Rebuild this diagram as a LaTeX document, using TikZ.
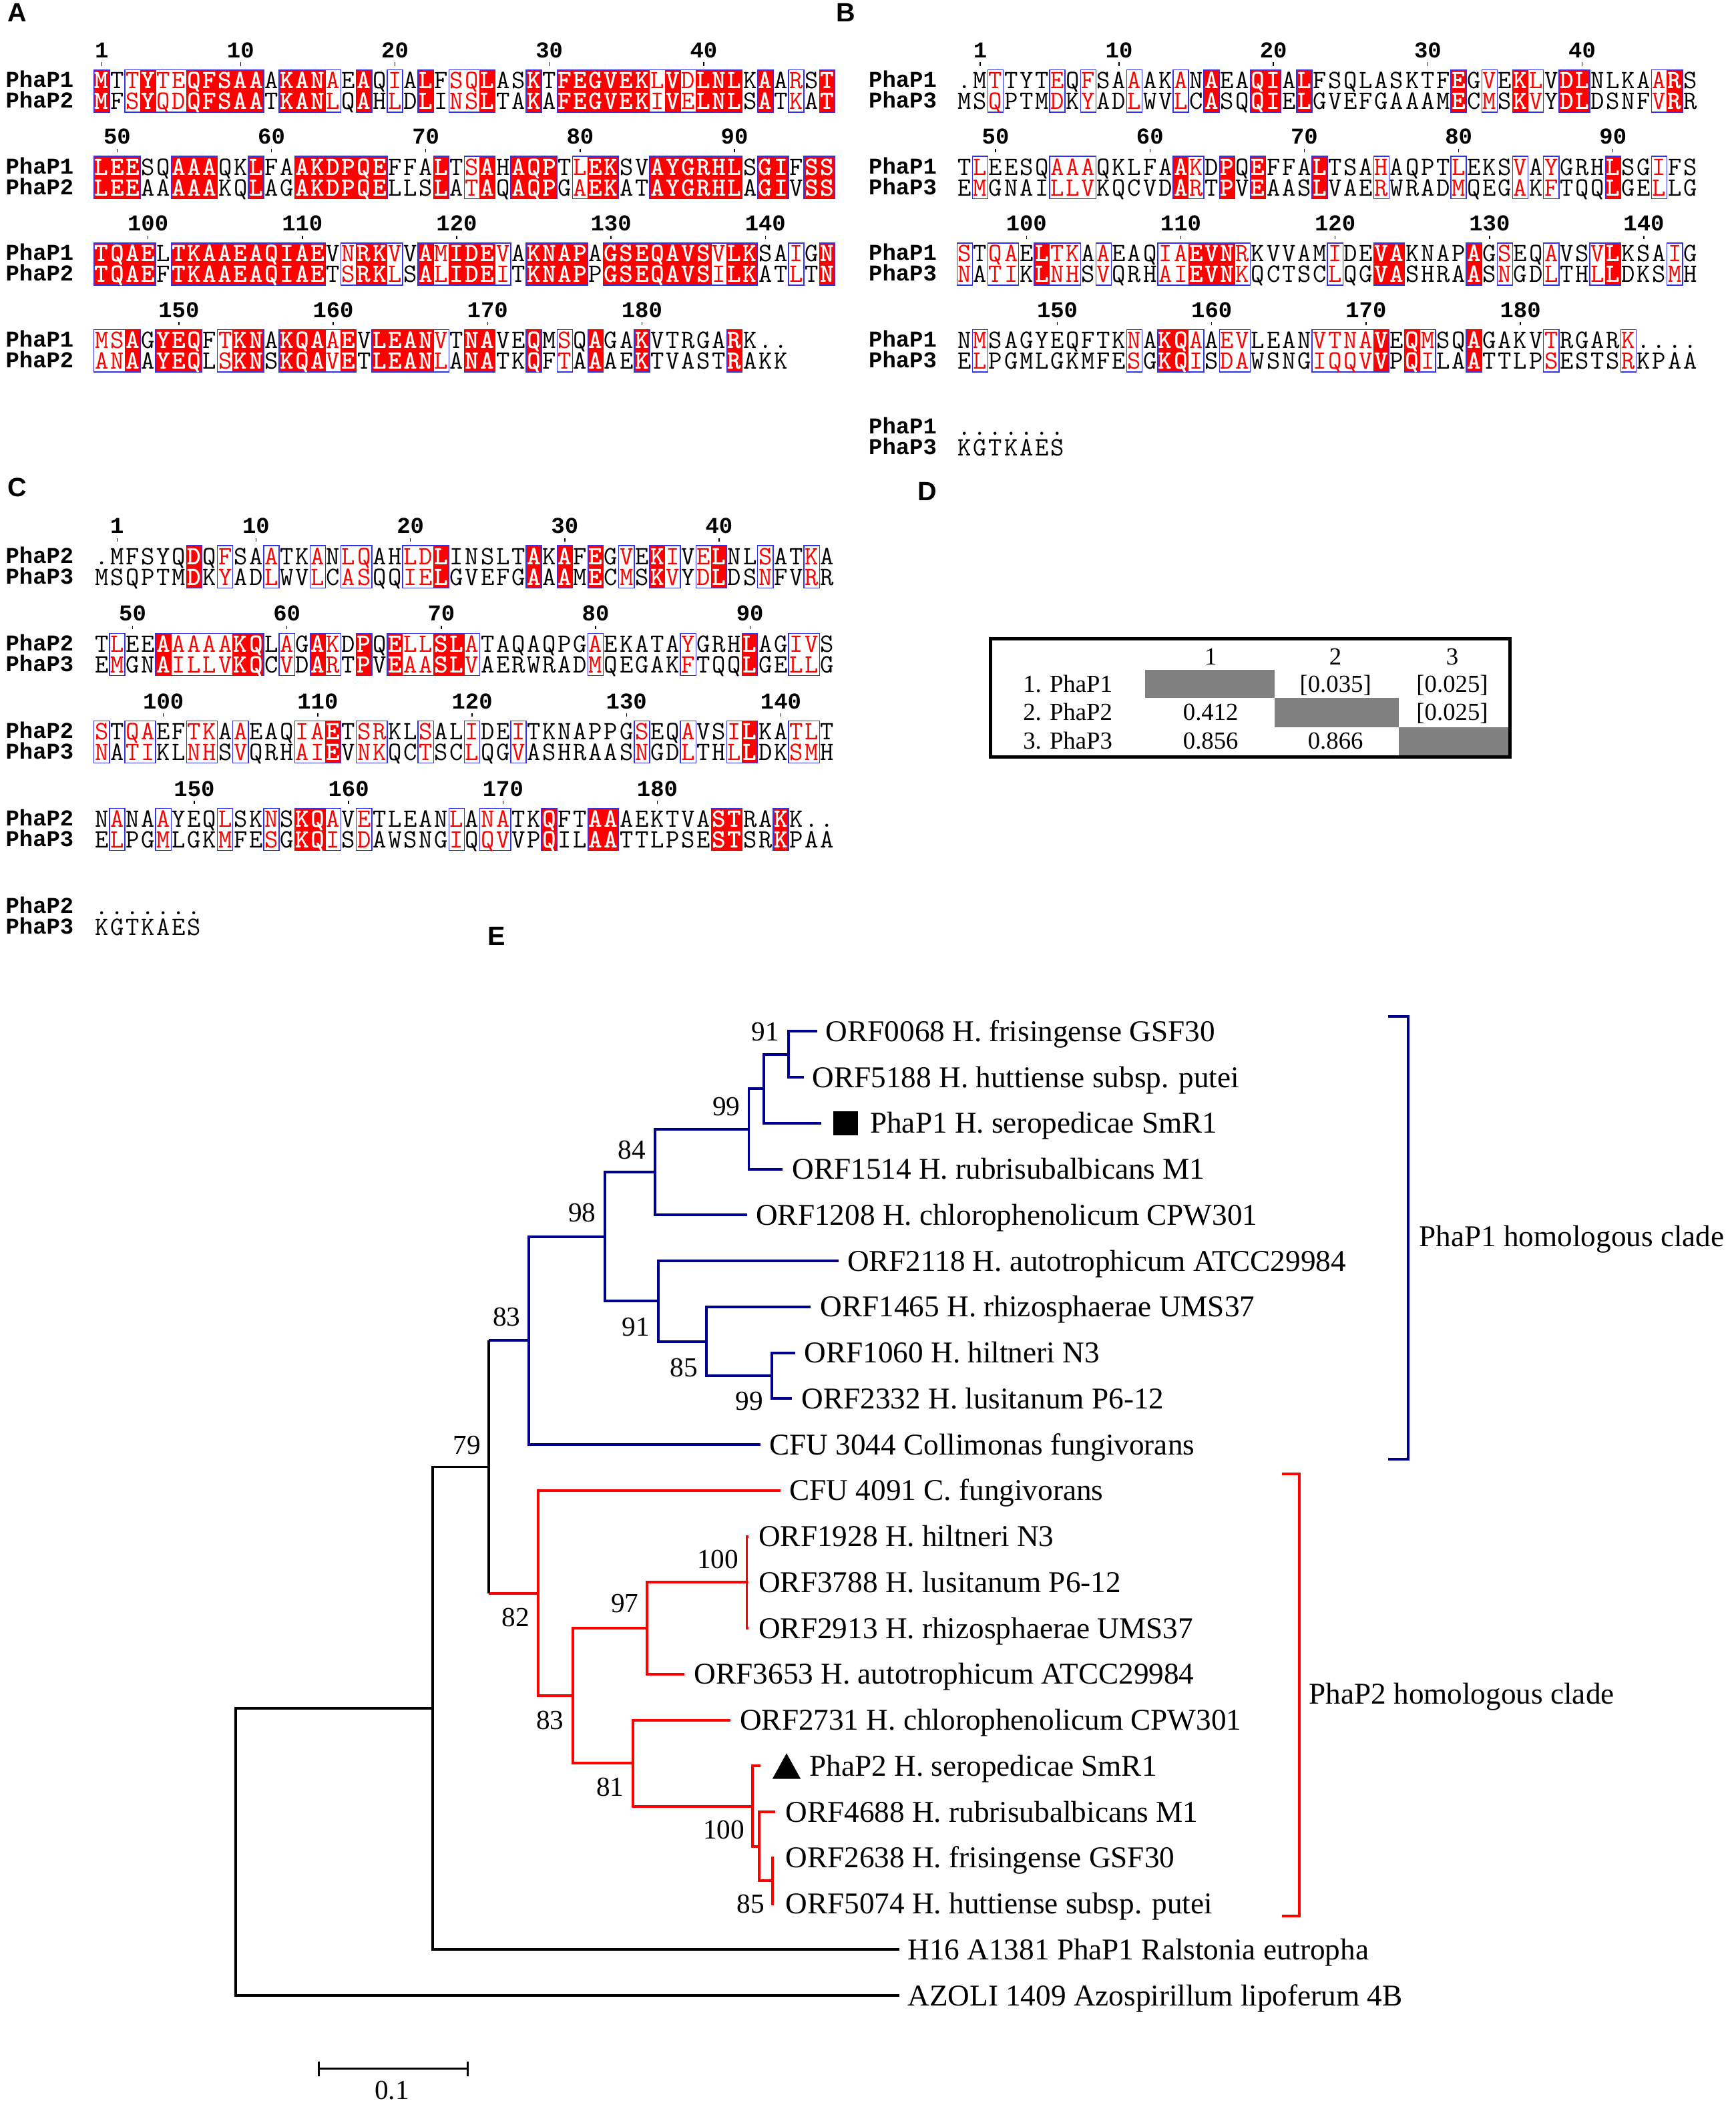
\documentclass[tikz,border=0pt]{standalone}
\usepackage{fontspec}
\setmainfont{Liberation Serif}
\newfontfamily\seqfont{Liberation Mono}
\newfontfamily\panelfont{Liberation Sans}
\usetikzlibrary{positioning}

\definecolor{alnred}{RGB}{255,0,0}
\definecolor{alnblue}{RGB}{50,50,235}
\definecolor{cladeblue}{RGB}{0,0,140}
\definecolor{cladered}{RGB}{255,0,0}
\definecolor{cellgray}{RGB}{128,128,128}

\tikzset{
  res/.style={inner sep=0pt, text height=8.4pt, text depth=0pt,
    font=\ttfamily\fontsize{14}{14}\selectfont},
  simres/.style={res, text=alnred},
  idres/.style={res, text=white,
    font=\ttfamily\bfseries\fontsize{14}{14}\selectfont},
  simbox/.style={draw=alnblue, line width=0.5pt},
  seqname/.style={anchor=west, inner sep=0pt, text height=7pt, text depth=0pt,
    font=\seqfont\bfseries\fontsize{12}{12}\selectfont},
  seqnum/.style={inner sep=0pt, text height=7pt, text depth=0pt,
    font=\seqfont\bfseries\fontsize{12}{12}\selectfont},
  panel/.style={inner sep=0pt, text height=10pt, text depth=0pt,
    font=\panelfont\bfseries\fontsize{14}{14}\selectfont},
  celltext/.style={inner sep=0pt, text height=8.8pt, text depth=0pt,
    font=\fontsize{13}{13}\selectfont},
  leaf/.style={anchor=west, inner sep=0pt, text height=10.6pt, text depth=0pt,
    font=\fontsize{16}{16}\selectfont},
  boot/.style={inner sep=0pt, text height=9.9pt, text depth=0pt,
    font=\fontsize{14.6}{14.6}\selectfont},
  br/.style={line width=1.4pt},
  bbr/.style={br, draw=cladeblue},
  rbr/.style={br, draw=cladered},
  kbr/.style={br, draw=black},
}

\newcount\colidx
\newcount\runstart
\def\alnx{0}
\def\alnnamex{0}
\def\alntop{0}
\def\alnbot{0}
\def\alnrow{0}

\makeatletter
% close a run of similar columns with a blue frame
\def\aln@closerun{%
  \ifnum\runstart>0
    \draw[simbox] ({\alnx+11.5*(\the\runstart-1)},\alntop)
      rectangle ({\alnx+11.5*(\the\colidx-1)},\alnbot);
    \global\runstart=0
  \fi}
% classes: n = none, s = similar, i = identical
\def\aln@cls#1{%
  \ifx#1\relax
    \global\advance\colidx by 1
    \aln@closerun
  \else
    \global\advance\colidx by 1
    \expandafter\xdef\csname alncls\the\colidx\endcsname{#1}%
    \if#1n\aln@closerun
    \else
      \ifnum\runstart=0 \global\runstart=\colidx\fi
      \if#1i\fill[alnred] ({\alnx+11.5*(\the\colidx-1)-0.2},\alntop)
        rectangle ({\alnx+11.5*\the\colidx+0.2},\alnbot);\fi
    \fi
    \expandafter\aln@cls
  \fi}
\def\aln@seq#1{%
  \ifx#1\relax\else
    \global\advance\colidx by 1
    \edef\aln@c{\csname alncls\the\colidx\endcsname}%
    \if i\aln@c\node[idres] at ({\alnx+11.5*(\the\colidx-0.5)},\alnrow) {#1};%
    \else\if s\aln@c\node[simres] at ({\alnx+11.5*(\the\colidx-0.5)},\alnrow) {#1};%
    \else\node[res] at ({\alnx+11.5*(\the\colidx-0.5)},\alnrow) {#1};\fi\fi
    \expandafter\aln@seq
  \fi}
% #1 x0, #2 row y, #3 #4 names, #5 classes, #6 #7 sequences
\newcommand\alnblock[7]{%
  \def\alnx{#1}%
  \pgfmathsetmacro\alnnamex{#1-66}%
  \pgfmathsetmacro\alntop{#2-8}%
  \pgfmathsetmacro\alnbot{#2+23.5}%
  \global\colidx=0 \global\runstart=0
  \aln@cls#5\relax
  \global\colidx=0 \def\alnrow{#2}%
  \aln@seq#6\relax
  \global\colidx=0 \pgfmathsetmacro\alnrow{#2+15.5}%
  \aln@seq#7\relax
  \node[seqname] at (\alnnamex,#2) {#3};
  \node[seqname] at (\alnnamex,#2+15.5) {#4};
}
\newcommand\alnnums[3]{%
  \foreach \pos/\num in {#3}{
    \node[seqnum] at ({#1+11.5*(\pos-0.5)},#2-22) {\num};
    \draw[line width=0.5pt] ({#1+11.5*(\pos-0.5)},#2-13.5) -- ({#1+11.5*(\pos-0.5)},#2-11);
  }}
\makeatother

\begin{document}
\begin{tikzpicture}[x=0.25mm,y=-0.25mm]
\path[fill=white,use as bounding box] (0,0) rectangle (1293,1568);

% panel labels
\node[panel] (pA) at (13,9) {A};
\node[panel] (pB) at (630,9) {B};
\node[panel] (pC) at (13,363) {C};
\node[panel] (pD) at (691,366) {D};
\node[panel] (pE) at (370,697) {E};

% A: PhaP1 vs PhaP2
\alnnums{70}{60}{1/1,10/10,20/20,30/30,40/40}
\alnblock{70}{60}{PhaP1}{PhaP2}
  {insissiiii iniiisnins ninssinnin iiiiiisisi iininsni}
  {MTTYTEQFSA AAKANAEAQI ALFSQLASKT FEGVEKLVDL NLKAARST}
  {MFSYQDQFSA ATKANLQAHL DLINSLTAKA FEGVEKIVEL NLSATKAT}
\alnnums{70}{124.5}{2/50,12/60,22/70,32/80,42/90}
\alnblock{70}{124.5}{PhaP1}{PhaP2}
  {iiinniiinn inniiiiiin nninsiniii nsiinniiii iiniinii}
  {LEESQAAAQK LFAAKDPQEF FALTSAHAQP TLEKSVAYGR HLSGIFSS}
  {LEEAAAAAKQ LAGAKDPQEL LSLATAQAQP GAEKATAYGR HLAGIVSS}
\alnnums{70}{189}{4/100,14/110,24/120,34/130,44/140}
\alnblock{70}{189}{PhaP1}{PhaP2}
  {iiiiniiiii iiiiinsiis nisiiisnii iiniiiiiii siinnsni}
  {TQAELTKAAE AQIAEVNRKV VAMIDEVAKN APAGSEQAVS VLKSAIGN}
  {TQAEFTKAAE AQIAETSRKL SALIDEITKN APPGSEQAVS ILKATLTN}
\alnnums{70}{253.5}{6/150,16/160,26/170,36/180}
\alnblock{70}{253.5}{PhaP1}{PhaP2}
  {ssiniiinsi iniiisinii iisniinnin sninninnnn ninnn}
  {MSAGYEQFTK NAKQAAEVLE ANVTNAVEQM SQAGAKVTRG ARK..}
  {ANAAYEQLSK NSKQAVETLE ANLANATKQF TAAAEKTVAS TRAKK}

% B: PhaP1 vs PhaP3
\alnnums{713}{60}{2/1,11/10,21/20,31/30,41/40}
\alnblock{713}{60}{PhaP1}{PhaP3}
  {nnsnnnsnsn nsnnsninni ininnnnnnn nninsnisni innnnsin}
  {.MTTYTEQFS AAAKANAEAQ IALFSQLASK TFEGVEKLVD LNLKAARS}
  {MSQPTMDKYA DLWVLCASQQ IELGVEFGAA AMECMSKVYD LDSNFVRR}
\alnnums{713}{124.5}{3/50,13/60,23/70,33/80,43/90}
\alnblock{713}{124.5}{PhaP1}{PhaP3}
  {nsnnnnsssn nnnnisnini nnninnnsnn nnsnnnsnsn nninnsnn}
  {TLEESQAAAQ KLFAAKDPQE FFALTSAHAQ PTLEKSVAYG RHLSGIFS}
  {EMGNAILLVK QCVDARTPVE AASLVAERWR ADMQEGAKFT QQLGELLG}
\alnnums{713}{189}{5/100,15/110,25/120,35/130,45/140}
\alnblock{713}{189}{PhaP1}{PhaP3}
  {snssnissns nnnssiiisn nnnnsnniin nnninsnnsn nsinnnsn}
  {STQAELTKAA EAQIAEVNRK VVAMIDEVAK NAPAGSEQAV SVLKSAIG}
  {NATIKLNHSV QRHAIEVNKQ CTSCLQGVAS HRAASNGDLT HLLDKSMH}
\alnnums{713}{253.5}{7/150,17/160,27/170,37/180}
\alnblock{713}{253.5}{PhaP1}{PhaP3}
  {nsnnnnnnnn nsniisnssn nnnssssini snninnnnsn nnnsnnnn}
  {NMSAGYEQFT KNAKQAAEVL EANVTNAVEQ MSQAGAKVTR GARK....}
  {ELPGMLGKMF ESGKQISDAW SNGIQQVVPQ ILAATTLPSE STSRKPAA}
\alnblock{713}{318}{PhaP1}{PhaP3}{nnnnnnn}{.......}{KGTKAES}

% C: PhaP2 vs PhaP3
\alnnums{70}{414.5}{2/1,11/10,21/20,31/30,41/40}
\alnblock{70}{414.5}{PhaP2}{PhaP3}
  {nnnnnninsn nsnnsnssnn ssinnnnnin ininsnisns innsnnsn}
  {.MFSYQDQFS AATKANLQAH LDLINSLTAK AFEGVEKIVE LNLSATKA}
  {MSQPTMDKYA DLWVLCASQQ IELGVEFGAA AMECMSKVYD LDSNFVRR}
\alnnums{70}{479.7}{3/50,13/60,23/70,33/80,43/90}
\alnblock{70}{479.7}{PhaP2}{PhaP3}
  {nsnnissssi insnisnini ssiisnnnnn nnsnnnnnsn nninnssn}
  {TLEEAAAAAK QLAGAKDPQE LLSLATAQAQ PGAEKATAYG RHLAGIVS}
  {EMGNAILLVK QCVDARTPVE AASLVAERWR ADMQEGAKFT QQLGELLG}
\alnnums{70}{544.9}{5/100,15/110,25/120,35/130,45/140}
\alnblock{70}{544.9}{PhaP2}{PhaP3}
  {snssnnssns nnnssinssn nsnnsnnsnn nnnnnsnnsn nsinnssn}
  {STQAEFTKAA EAQIAETSRK LSALIDEITK NAPPGSEQAV SILKATLT}
  {NATIKLNHSV QRHAIEVNKQ CTSCLQGVAS HRAASNGDLT HLLDKSMH}
\alnnums{70}{610.1}{7/150,17/160,27/170,37/180}
\alnblock{70}{610.1}{PhaP2}{PhaP3}
  {nsnnsnnnsn nsniisnsnn nnnsnssnni nniinnnnnn iinninnn}
  {NANAAYEQLS KNSKQAVETL EANLANATKQ FTAAAEKTVA STRAKK..}
  {ELPGMLGKMF ESGKQISDAW SNGIQQVVPQ ILAATTLPSE STSRKPAA}
\alnblock{70}{675.3}{PhaP2}{PhaP3}{nnnnnnn}{.......}{KGTKAES}

% D: identity table
\fill[cellgray] (853,499) rectangle (949.5,520);
\fill[cellgray] (949.5,520) rectangle (1042,541.5);
\fill[cellgray] (1042,541.5) rectangle (1124,563);
\draw[line width=1.8pt] (738,476) rectangle (1125,564);
\node[celltext] (h1) at (902,489) {1};
\node[celltext] (h2) at (995,489) {2};
\node[celltext] (h3) at (1082,489) {3};
\node[celltext] (r1) at (795.5,509.5) {1. PhaP1};
\node[celltext] (r2) at (795.5,530.5) {2. PhaP2};
\node[celltext] (r3) at (795.5,551.5) {3. PhaP3};
\node[celltext] (v12) at (995,509.5) {[0.035]};
\node[celltext] (v13) at (1082,509.5) {[0.025]};
\node[celltext] (v21) at (902,530.5) {0.412};
\node[celltext] (v23) at (1082,530.5) {[0.025]};
\node[celltext] (v31) at (902,551.5) {0.856};
\node[celltext] (v32) at (995,551.5) {0.866};

% E: tree, tips and leaf labels
\foreach \n/\tx/\lx/\lab in {
  1/609.1/615/{ORF0068 H. frisingense GSF30},
  2/598.8/605/{ORF5188 H. huttiense subsp. putei},
  3/612.1/648/{PhaP1 H. seropedicae SmR1},
  4/583/590/{ORF1514 H. rubrisubalbicans M1},
  5/556.8/563/{ORF1208 H. chlorophenolicum CPW301},
  6/624.9/631/{ORF2118 H. autotrophicum ATCC29984},
  7/604/611/{ORF1465 H. rhizosphaerae UMS37},
  8/592.5/599/{ORF1060 H. hiltneri N3},
  9/590/597/{ORF2332 H. lusitanum P6-12},
  10/566.5/573/{CFU 3044 Collimonas fungivorans},
  11/581.7/588/{CFU 4091 C. fungivorans},
  12/557.5/565/{ORF1928 H. hiltneri N3},
  13/557.5/565/{ORF3788 H. lusitanum P6-12},
  14/557.5/565/{ORF2913 H. rhizosphaerae UMS37},
  15/510/517/{ORF3653 H. autotrophicum ATCC29984},
  16/544/551/{ORF2731 H. chlorophenolicum CPW301},
  17/566.5/603/{PhaP2 H. seropedicae SmR1},
  18/577.3/585/{ORF4688 H. rubrisubalbicans M1},
  19/576.5/585/{ORF2638 H. frisingense GSF30},
  20/576.5/585/{ORF5074 H. huttiense subsp. putei},
  21/670/676/{H16 A1381 PhaP1 Ralstonia eutropha},
  22/670/676/{AZOLI 1409 Azospirillum lipoferum 4B}}{
  \pgfmathsetmacro\yy{768.3+34.2*(\n-1)}
  \coordinate (t\n) at (\tx,\yy);
  \node[leaf] (l\n) at (\lx,\yy) {\lab};
}
\fill (621,827.7) rectangle (639,845.7);
\fill (575.5,1325) -- (596.5,1325) -- (586,1306) -- cycle;

% internal nodes
\coordinate (nA91) at (587.4,785.4);
\coordinate (nA99a) at (569.1,811.05);
\coordinate (nA99) at (557.9,840.98);
\coordinate (nA84) at (487.9,873.04);
\coordinate (nB99) at (575,1024.8);
\coordinate (nB85) at (526.3,999.15);
\coordinate (nB91) at (490.7,969.23);
\coordinate (n98) at (450.8,921.13);
\coordinate (n83b) at (394.2,998.6);
\coordinate (nR100) at (556.4,1178.7);
\coordinate (nR97) at (482.2,1212.9);
\coordinate (nC85) at (575.4,1401);
\coordinate (nB100) at (565.5,1375.35);
\coordinate (nA100) at (560.8,1345.43);
\coordinate (nR81) at (471.7,1313.36);
\coordinate (nR83) at (426.6,1263.13);
\coordinate (nR82) at (400.9,1186.72);
\coordinate (n79) at (364.3,1092.66);
\coordinate (n1) at (322.5,1272.48);
\coordinate (nroot) at (175.8,1379.49);

% PhaP1 clade
\draw[bbr] (t1) -| (nA91) |- (t2);
\draw[bbr] (nA91) -| (nA99a) |- (t3);
\draw[bbr] (nA99a) -| (nA99) |- (t4);
\draw[bbr] (nA99) -| (nA84) |- (t5);
\draw[bbr] (t8) -| (nB99) |- (t9);
\draw[bbr] (t7) -| (nB85) |- (nB99);
\draw[bbr] (t6) -| (nB91) |- (nB85);
\draw[bbr] (nA84) -| (n98) |- (nB91);
\draw[bbr] (n98) -| (n83b) |- (t10);
\draw[bbr] (n83b) -- (n83b -| n79);

% PhaP2 clade
\draw[rbr] (t12) -| (nR100) |- (t14);
\draw[rbr] (nR100) -- (t13);
\draw[rbr] (nR100) -| (nR97) |- (t15);
\draw[rbr] (t19) -| (nC85) |- (t20);
\draw[rbr] (t18) -| (nB100) |- (nC85);
\draw[rbr] (t17) -| (nA100) |- (nB100);
\draw[rbr] (t16) -| (nR81) |- (nA100);
\draw[rbr] (nR97) -| (nR83) |- (nR81);
\draw[rbr] (t11) -| (nR82) |- (nR83);
\draw[rbr] (nR82) -- (nR82 -| n79);

% outgroups
\draw[kbr] (n83b -| n79) -- (nR82 -| n79);
\draw[kbr] (n79) -| (n1) |- (t21);
\draw[kbr] (n1) -| (nroot) |- (t22);

% bootstrap values
\node[boot] (b1) at (570.3,768.3) {91};
\node[boot] (b2) at (541.2,823.8) {99};
\node[boot] (b3) at (470.7,856.2) {84};
\node[boot] (b4) at (433.6,903.3) {98};
\node[boot] (b5) at (473.6,988.1) {91};
\node[boot] (b6) at (509.4,1018.5) {85};
\node[boot] (b7) at (558.3,1043.6) {99};
\node[boot] (b8) at (377.5,980.8) {83};
\node[boot] (b9) at (347.9,1076.3) {79};
\node[boot] (b10) at (384.2,1204.5) {82};
\node[boot] (b11) at (409.9,1281) {83};
\node[boot] (b12) at (465.5,1194.2) {97};
\node[boot] (b13) at (534.9,1161.1) {100};
\node[boot] (b14) at (454.6,1330.8) {81};
\node[boot] (b15) at (539.3,1362.7) {100};
\node[boot] (b16) at (559.2,1418) {85};

% clade brackets
\draw[line width=1.4pt, cladeblue] (1034,757) -- (1049,757) -- (1049,1087) -- (1034,1087);
\draw[line width=1.4pt, cladered] (955,1098) -- (968,1098) -- (968,1427) -- (955,1427);
\node[leaf] (c1) at (1057,921) {PhaP1 homologous clade};
\node[leaf] (c2) at (975,1262) {PhaP2 homologous clade};

% scale bar
\coordinate (sb1) at (237.5,1541);
\coordinate (sb2) at (348.4,1541);
\draw[line width=1.2pt] (sb1) -- (sb2);
\draw[line width=1.2pt] ([yshift=1.4mm]sb1) -- ([yshift=-1.4mm]sb1);
\draw[line width=1.2pt] ([yshift=1.4mm]sb2) -- ([yshift=-1.4mm]sb2);
\node[boot] (sbl) at (292,1557) {0.1};
\end{tikzpicture}
\end{document}
